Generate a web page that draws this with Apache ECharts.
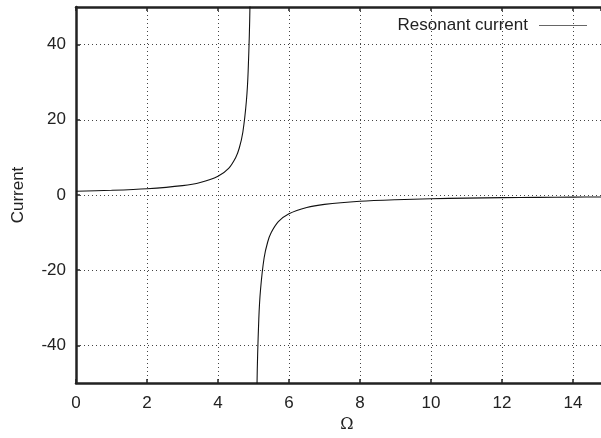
<!DOCTYPE html>
<html>
<head>
<meta charset="utf-8">
<script src="https://cdn.jsdelivr.net/npm/echarts@6/dist/echarts.min.js"></script>
<style>
  html, body { margin: 0; padding: 0; background: #fff; }
  #chart { width: 601px; height: 438px; }
</style>
</head>
<body>
<div id="chart"></div>
<script>
// values
var omega = [0, 1, 2, 3, 3.5, 4, 4.3, 4.5, 4.6, 4.7, 4.8, 4.85, 4.9, 4.95,
             5, 5.05, 5.1, 5.15, 5.2, 5.3, 5.4, 5.5, 5.7, 6, 6.5, 7, 8, 9, 10, 11, 12, 13, 14, 14.8];
var current = [1, 1.25, 1.67, 2.5, 3.33, 5, 7.1, 10, 12.5, 16.7, 25, 33, 50, 100,
               null, -100, -50, -33, -25, -16.7, -12.5, -10, -7.1, -5, -3.33, -2.5, -1.67, -1.25, -1, -0.83, -0.71, -0.62, -0.56, -0.53];
var xTicks = [0, 2, 4, 6, 8, 10, 12, 14];
var yTicks = [-40, -20, 0, 20, 40];
var seriesName = 'Resonant current';

var points = omega.map(function(w, i) { return [w, current[i]]; });

var font = 'Liberation Sans, Arial, Helvetica, sans-serif';
var dark = '#222';
var dotted = { show: true, lineStyle: { color: '#444', type: [1, 3], width: 1 } };

var chart = echarts.init(document.getElementById('chart'));
chart.setOption({
    animation: false,
    backgroundColor: '#fff',
    grid: { left: 76, right: 0, top: 7, bottom: 55 },
    legend: {
        right: 9,
        top: 12,
        align: 'right',
        itemWidth: 48,
        itemHeight: 1.2,
        itemGap: 0,
        textStyle: { fontFamily: font, fontSize: 17, color: dark, padding: [0, 6, 0, 0] },
        data: [{ name: seriesName, icon: 'rect', itemStyle: { color: '#666' } }]
    },
    xAxis: [{
        type: 'value',
        min: 0,
        max: 14.79,
        interval: 2,
        name: 'Ω',
        nameLocation: 'middle',
        nameGap: 34,
        nameTextStyle: { fontFamily: 'DejaVu Serif, Liberation Serif, serif', fontSize: 16, color: dark, padding: [0, 0, 0, 17] },
        axisLine: { show: true, onZero: false, lineStyle: { color: dark, width: 2.5 } },
        axisTick: { show: true, inside: true, length: 4, lineStyle: { color: dark, width: 1.5 } },
        axisLabel: {
            showMaxLabel: false,
            margin: 12,
            fontFamily: font, fontSize: 17, color: dark,
            formatter: function(v) { return xTicks.indexOf(v) >= 0 ? String(v) : ''; }
        },
        splitLine: dotted
    }, {
        type: 'value',
        position: 'top',
        min: 0,
        max: 14.79,
        interval: 2,
        axisLine: { show: true, onZero: false, lineStyle: { color: dark, width: 2.5 } },
        axisTick: { show: true, inside: true, length: 4, lineStyle: { color: dark, width: 1.5 } },
        axisLabel: { show: false },
        splitLine: { show: false }
    }],
    yAxis: {
        type: 'value',
        min: -50,
        max: 50,
        interval: 10,
        name: 'Current',
        nameLocation: 'middle',
        nameGap: 49,
        nameTextStyle: { fontFamily: font, fontSize: 17, color: dark },
        axisLine: { show: true, onZero: false, lineStyle: { color: dark, width: 2.5 } },
        axisTick: { show: true, inside: true, length: 4, customValues: yTicks, lineStyle: { color: dark, width: 1.5 } },
        axisLabel: {
            margin: 10,
            customValues: yTicks,
            fontFamily: font, fontSize: 17, color: dark
        },
        splitLine: dotted
    },
    series: [{
        name: seriesName,
        type: 'line',
        data: points,
        showSymbol: false,
        symbol: 'none',
        connectNulls: false,
        smooth: 0.3,
        clip: true,
        lineStyle: { color: '#111', width: 1.1 },
        itemStyle: { color: '#111' }
    }]
});
</script>
</body>
</html>
